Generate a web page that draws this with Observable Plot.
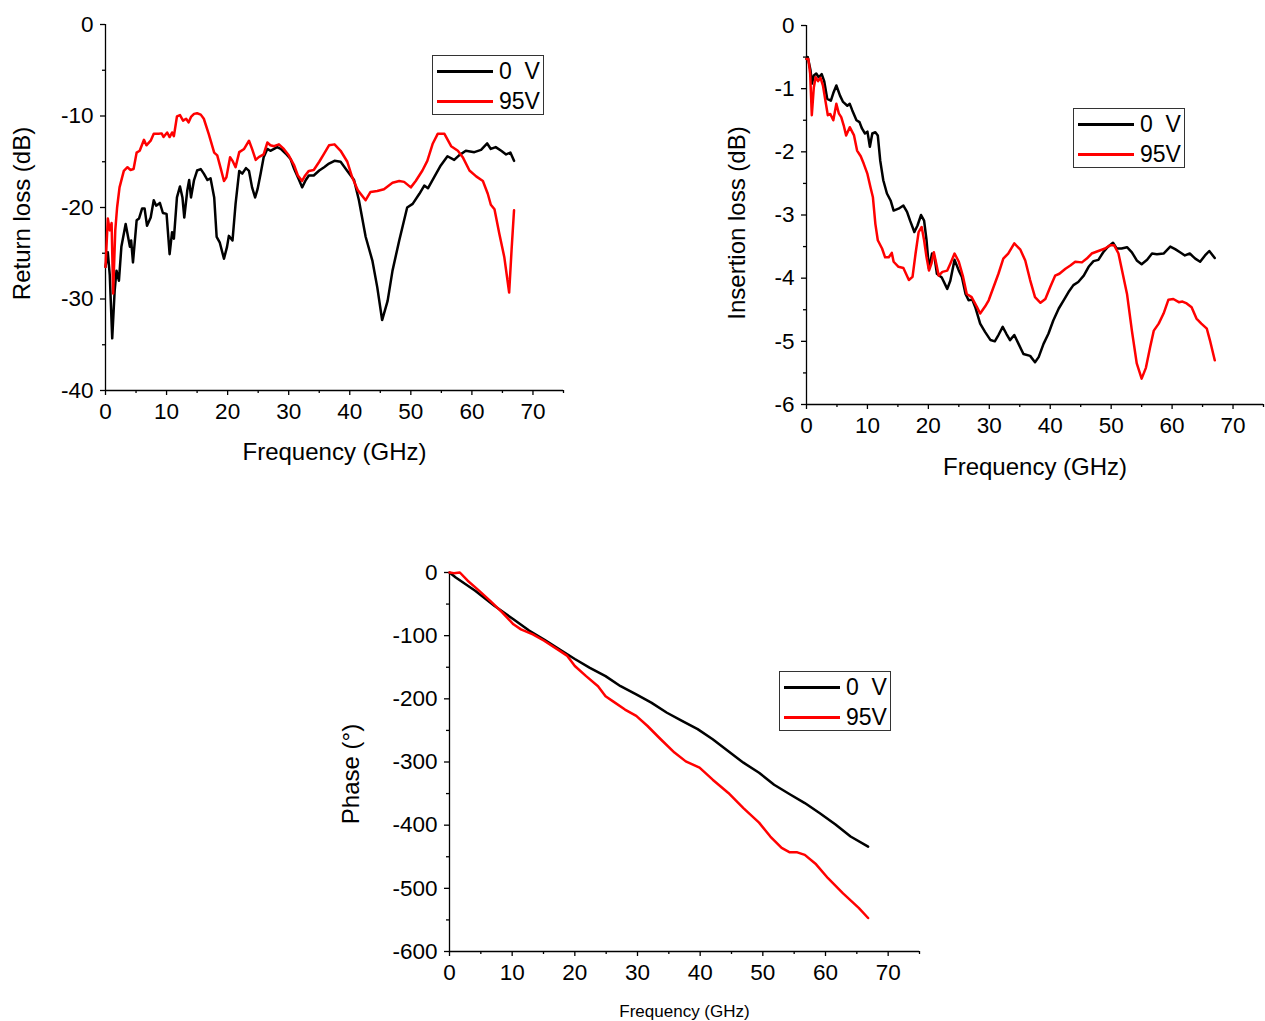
<!DOCTYPE html>
<html>
<head>
<meta charset="utf-8">
<script src="https://cdn.jsdelivr.net/npm/d3@7"></script>
<script src="https://cdn.jsdelivr.net/npm/@observablehq/plot@0.6"></script>
<style>
  html, body { margin: 0; padding: 0; background: #fff; }
  #root { position: relative; width: 1265px; height: 1021px; overflow: hidden; background: #fff;
          font-family: "Liberation Sans", Arial, sans-serif; color: #000; }
  .panel { position: absolute; }
  .legend { position: absolute; width: 110px; height: 58px; border: 1px solid #333; background: #fff; box-sizing: content-box; }
  .legend .sw { position: absolute; left: 4px; width: 56px; height: 2.5px; }
  .legend .lb { position: absolute; left: 66px; font-size: 23px; line-height: 23px; white-space: pre; }
</style>
</head>
<body>
<div id="root"></div>
<script>
// ---------- Data ----------
const seriesNames = ["0  V", "95V"];
const seriesColors = ["#000000", "#ff0000"];

const xMajorTicks = [0, 10, 20, 30, 40, 50, 60, 70];
const xMinorTicks = [5, 15, 25, 35, 45, 55, 65, 75];

// Return loss (dB)
const rlFreq0 = [0,0.38,0.7,1.1,1.5,1.8,2.2,2.6,3.3,4.0,4.2,4.5,5.1,5.5,6.0,6.4,6.8,7.4,7.9,8.3,8.9,9.4,10.0,10.5,10.9,11.2,11.7,12.2,12.6,12.9,13.4,13.7,14.0,14.5,15.0,15.6,16.1,16.7,17.2,17.8,18.2,18.7,19.4,19.9,20.2,20.8,21.3,21.9,22.4,23.0,23.5,24.0,24.5,24.9,25.4,25.9,26.5,27.0,27.6,28.1,28.7,29.5,30.3,30.9,31.7,32.2,32.8,33.3,34.1,35.0,35.8,36.6,37.5,38.5,39.6,40.7,41.5,42.6,43.7,44.5,45.3,46.2,47.0,48.1,49.4,50.3,51.4,52.2,52.8,53.8,54.9,56.0,57.1,57.9,59.0,60.4,61.5,62.5,63.1,63.9,64.8,65.6,66.3,66.9];
const rlVal0 = [-26.5,-24.9,-27.4,-34.3,-29.1,-26.9,-28.0,-24.3,-21.8,-24.3,-23.6,-26.0,-21.4,-21.2,-20.1,-20.1,-22.0,-21.1,-19.2,-19.8,-19.5,-20.6,-20.7,-25.1,-22.7,-23.4,-18.9,-17.7,-18.9,-21.1,-18.1,-17.0,-18.9,-17.0,-15.96,-15.8,-16.3,-17.0,-16.8,-18.9,-23.2,-23.8,-25.6,-24.3,-23.1,-23.6,-19.6,-16.0,-16.3,-15.7,-16.0,-17.8,-18.9,-18.0,-16.3,-14.5,-13.6,-13.8,-13.6,-13.4,-13.6,-14.1,-14.7,-15.8,-17.0,-17.8,-17.0,-16.5,-16.5,-15.96,-15.6,-15.2,-14.9,-15.0,-16.0,-17.0,-19.2,-23.2,-25.8,-28.7,-32.3,-30.2,-26.9,-23.6,-20.0,-19.6,-18.5,-17.6,-17.9,-16.7,-15.4,-14.4,-14.8,-14.3,-13.8,-13.95,-13.7,-13.0,-13.6,-13.4,-13.8,-14.2,-14.0,-14.9];
const rlFreq95 = [0,0.38,0.7,1.0,1.25,1.6,1.9,2.3,3.0,3.6,4.1,4.6,5.1,5.6,6.3,6.7,7.4,7.9,8.7,9.2,9.5,10.1,10.5,10.9,11.2,11.7,12.2,12.7,13.2,13.6,14.0,14.5,15.0,15.6,16.1,16.9,17.8,18.3,18.9,19.4,19.8,20.4,20.8,21.3,21.9,22.7,23.5,24.0,24.6,25.1,25.9,26.5,27.0,27.6,28.4,29.2,30.0,30.9,31.5,32.2,32.7,33.3,34.1,35.0,35.8,36.6,37.5,38.5,39.6,40.4,41.3,42.6,43.4,44.5,45.6,47.0,48.1,48.9,50.0,50.8,51.9,52.7,53.6,54.4,55.5,56.6,57.7,58.5,59.6,60.7,61.8,62.6,63.1,63.7,64.5,65.3,66.1,66.5,66.9];
const rlVal95 = [-26.5,-21.2,-22.5,-21.7,-29.4,-22.5,-20.0,-17.8,-16.0,-15.6,-15.9,-15.8,-14.0,-13.8,-12.6,-13.2,-12.7,-11.95,-11.95,-11.9,-12.3,-11.8,-12.3,-11.8,-12.2,-10.05,-9.9,-10.5,-10.3,-10.7,-10.1,-9.77,-9.7,-9.85,-10.3,-11.95,-14.0,-14.3,-15.8,-17.1,-16.7,-14.5,-14.9,-15.6,-13.95,-13.6,-12.7,-13.6,-14.8,-14.5,-14.2,-12.9,-13.2,-13.3,-13.1,-13.6,-14.3,-15.4,-16.5,-17.1,-16.5,-16.0,-15.9,-15.0,-14.1,-13.2,-13.1,-13.8,-15.0,-16.7,-18.1,-19.2,-18.3,-18.2,-18.0,-17.3,-17.1,-17.2,-17.8,-17.1,-15.96,-14.9,-13.0,-11.95,-11.95,-13.3,-13.8,-14.5,-15.96,-16.6,-17.1,-18.5,-19.7,-20.2,-22.9,-25.4,-29.3,-24.6,-20.3];
const rlYMajor = [0, -10, -20, -30, -40];
const rlYMinor = [-5, -15, -25, -35];

// Insertion loss (dB)
const ilFreq0 = [0,0.2,0.66,0.9,1.2,1.6,2.0,2.5,2.9,3.4,4.0,4.4,4.9,5.5,6.0,6.7,7.1,7.5,8.2,8.7,9.1,9.6,10.0,10.4,10.8,11.3,11.7,12.1,12.6,13.2,13.8,14.3,15.1,15.9,16.5,17.0,17.7,18.2,18.8,19.3,19.7,20.1,20.6,21.0,21.4,22.2,23.1,23.6,24.3,25.0,25.5,26.1,26.6,27.2,27.7,28.5,29.3,30.2,30.9,31.5,32.2,32.8,33.4,34.1,34.8,35.6,36.7,37.5,38.1,38.9,39.7,40.5,41.4,42.2,43.0,43.8,44.6,45.5,46.3,47.1,47.9,48.7,49.4,50.3,50.9,51.7,52.6,53.4,54.2,55.0,55.9,56.7,57.5,58.6,59.7,60.5,61.3,62.1,62.9,63.8,64.6,65.4,66.1,67.0];
const ilVal0 = [-0.53,-0.50,-0.71,-0.92,-0.79,-0.76,-0.82,-0.77,-0.88,-1.16,-1.19,-1.07,-0.95,-1.11,-1.21,-1.27,-1.24,-1.34,-1.50,-1.53,-1.63,-1.71,-1.68,-1.92,-1.71,-1.69,-1.74,-2.14,-2.45,-2.66,-2.77,-2.93,-2.90,-2.85,-2.95,-3.09,-3.27,-3.17,-3.0,-3.09,-3.40,-3.85,-3.61,-3.66,-3.93,-3.99,-4.17,-4.04,-3.71,-3.88,-3.98,-4.25,-4.35,-4.34,-4.46,-4.72,-4.85,-4.98,-5.0,-4.9,-4.77,-4.88,-4.98,-4.9,-5.04,-5.2,-5.23,-5.33,-5.25,-5.04,-4.88,-4.67,-4.48,-4.35,-4.22,-4.11,-4.06,-3.96,-3.82,-3.73,-3.71,-3.59,-3.51,-3.44,-3.53,-3.53,-3.51,-3.59,-3.72,-3.78,-3.71,-3.61,-3.62,-3.61,-3.5,-3.54,-3.59,-3.64,-3.61,-3.69,-3.74,-3.64,-3.57,-3.68];
const ilFreq95 = [0,0.3,0.6,0.87,1.2,1.5,1.9,2.3,2.7,3.1,3.5,3.9,4.4,4.9,5.3,5.7,6.1,6.5,7.1,7.8,8.3,8.9,9.4,10.0,10.5,10.9,11.3,11.7,12.4,12.9,13.5,14.0,14.3,15.1,15.9,16.8,17.4,17.9,18.4,18.9,19.3,19.7,20.1,20.5,20.9,21.3,21.7,22.3,23.1,23.6,24.3,25.0,25.7,26.3,27.1,28.0,28.5,29.3,29.9,30.7,31.5,32.3,33.1,34.1,35.1,35.9,36.7,37.5,38.4,39.2,40.0,40.8,41.5,42.5,43.3,44.1,45.2,46.0,46.8,47.9,49.0,49.8,50.5,51.2,51.9,52.6,53.4,54.2,55.0,55.7,56.4,57.0,57.8,58.6,59.4,60.2,61.1,61.7,62.4,63.2,64.0,64.8,65.7,66.2,67.0];
const ilVal95 = [-0.53,-0.53,-0.76,-1.42,-0.98,-0.82,-0.88,-0.83,-0.95,-1.19,-1.42,-1.40,-1.50,-1.24,-1.39,-1.45,-1.58,-1.74,-1.61,-1.74,-1.98,-2.07,-2.19,-2.35,-2.56,-2.72,-3.14,-3.40,-3.53,-3.67,-3.67,-3.6,-3.74,-3.82,-3.84,-4.03,-3.98,-3.61,-3.27,-3.19,-3.40,-3.67,-3.88,-3.77,-3.59,-3.77,-3.96,-3.9,-3.88,-3.77,-3.61,-3.74,-3.98,-4.25,-4.3,-4.46,-4.56,-4.45,-4.35,-4.14,-3.93,-3.69,-3.61,-3.45,-3.55,-3.72,-4.03,-4.30,-4.39,-4.33,-4.14,-3.96,-3.93,-3.85,-3.80,-3.74,-3.75,-3.69,-3.61,-3.57,-3.53,-3.48,-3.48,-3.61,-3.93,-4.25,-4.83,-5.35,-5.59,-5.42,-5.09,-4.83,-4.72,-4.56,-4.34,-4.33,-4.38,-4.37,-4.4,-4.46,-4.64,-4.72,-4.8,-4.98,-5.3];
const ilYMajor = [0, -1, -2, -3, -4, -5, -6];
const ilYMinor = [-0.5, -1.5, -2.5, -3.5, -4.5, -5.5];

// Phase (°)
const phFreq0 = [0,1.0,4.1,7.2,10.2,12.7,15.1,17.6,20.0,22.4,24.9,27.3,29.8,32.2,34.7,37.1,39.6,42.0,44.5,46.9,49.4,51.8,54.3,56.7,59.1,61.6,64.0,66.8];
const phVal0 = [0,-8,-29,-53,-74,-92,-106,-122,-137,-151,-164,-180,-193,-206,-222,-235,-248,-264,-283,-301,-317,-336,-351,-365,-381,-399,-418,-434];
const phFreq95 = [0,0.7,1.65,2.9,4.4,6.5,8.4,10.2,11.4,13.3,15.1,17.6,18.8,20.0,21.8,23.7,24.9,26.1,28.0,29.8,31.6,33.5,35.9,37.7,39.9,42.0,44.5,46.9,49.4,51.2,53.0,54.3,55.5,56.7,58.5,60.4,62.8,65.3,66.8];
const phVal95 = [0,-1,0,-13,-26,-45,-63,-82,-90,-98,-108,-124,-132,-148,-164,-180,-196,-204,-217,-227,-243,-262,-285,-299,-309,-328,-349,-373,-396,-418,-436,-443,-443,-447,-462,-484,-508,-531,-547];
const phYMajor = [0, -100, -200, -300, -400, -500, -600];
const phYMinor = [-50, -150, -250, -350, -450, -550];

// ---------- Drawing ----------
const FONT = '"Liberation Sans", Arial, sans-serif';
const root = document.getElementById("root");

function panel(cfg) {
  const fmt = d => String(d);
  const axisStyle = {stroke: "#000", strokeWidth: 1.3};
  const marks = [
    Plot.ruleX([0], axisStyle),
    Plot.ruleY([cfg.yDomain[0]], axisStyle),
    Plot.axisX(xMajorTicks, {anchor: "bottom", tickSize: 5, tickPadding: 8, tickFormat: fmt, fontSize: 22.5, strokeWidth: 1.3, label: null}),
    Plot.axisX(xMinorTicks, {anchor: "bottom", tickSize: 3, tickFormat: () => "", strokeWidth: 1.3, label: null}),
    Plot.axisY(cfg.yMajor, {anchor: "left", tickSize: 5, tickPadding: 7, tickFormat: fmt, fontSize: 22.5, strokeWidth: 1.3, label: null}),
    Plot.axisY(cfg.yMinor, {anchor: "left", tickSize: 3, tickFormat: () => "", strokeWidth: 1.3, label: null}),
  ];
  cfg.series.forEach((s, i) => {
    marks.push(Plot.line(s.y, {x: s.x, y: s.y, stroke: seriesColors[i], strokeWidth: 2.5, strokeLinejoin: "round", curve: "linear"}));
  });
  marks.push(Plot.text([cfg.yTitle], {frameAnchor: "left", rotate: -90, dx: cfg.yTitleDx, dy: cfg.yTitleDy, fontSize: 24, fill: "#000", lineAnchor: "middle", textAnchor: "middle"}));
  marks.push(Plot.text([cfg.xTitle], {frameAnchor: "bottom", dy: cfg.xTitleDy, fontSize: cfg.xTitleSize, fill: "#000", lineAnchor: "middle", textAnchor: "middle"}));

  const svg = Plot.plot({
    width: cfg.width, height: cfg.height,
    marginLeft: cfg.ml, marginRight: cfg.mr, marginTop: cfg.mt, marginBottom: cfg.mb,
    x: {domain: [0, 75]},
    y: {domain: cfg.yDomain},
    style: {fontFamily: FONT, fontSize: "22px", color: "#000", background: "transparent", overflow: "visible"},
    marks
  });
  const wrap = document.createElement("div");
  wrap.className = "panel";
  wrap.style.left = cfg.left + "px";
  wrap.style.top = cfg.top + "px";
  wrap.appendChild(svg);
  root.appendChild(wrap);

  // legend
  const lg = document.createElement("div");
  lg.className = "legend";
  lg.style.left = cfg.legend[0] + "px";
  lg.style.top = cfg.legend[1] + "px";
  seriesNames.forEach((name, i) => {
    const sw = document.createElement("div");
    sw.className = "sw";
    sw.style.top = (14 + 30 * i) + "px";
    sw.style.background = seriesColors[i];
    lg.appendChild(sw);
    const lb = document.createElement("div");
    lb.className = "lb";
    lb.style.top = (4 + 30 * i) + "px";
    lb.textContent = name;
    lg.appendChild(lb);
  });
  root.appendChild(lg);
}

panel({
  left: 0, top: 0, width: 580, height: 470, ml: 105, mr: 17, mt: 24, mb: 80,
  yDomain: [-40, 0], yMajor: rlYMajor, yMinor: rlYMinor,
  series: [{x: rlFreq0, y: rlVal0}, {x: rlFreq95, y: rlVal95}],
  yTitle: "Return loss (dB)", yTitleDx: -83, yTitleDy: 6,
  xTitle: "Frequency (GHz)", xTitleDy: 62, xTitleSize: 24,
  legend: [432, 55]
});

panel({
  left: 700, top: 0, width: 565, height: 490, ml: 106, mr: 2, mt: 25, mb: 86,
  yDomain: [-6, 0], yMajor: ilYMajor, yMinor: ilYMinor,
  series: [{x: ilFreq0, y: ilVal0}, {x: ilFreq95, y: ilVal95}],
  yTitle: "Insertion loss (dB)", yTitleDx: -69, yTitleDy: 8,
  xTitle: "Frequency (GHz)", xTitleDy: 63, xTitleSize: 24,
  legend: [1073, 108]
});

panel({
  left: 330, top: 540, width: 600, height: 481, ml: 119, mr: 11, mt: 32, mb: 70,
  yDomain: [-600, 0], yMajor: phYMajor, yMinor: phYMinor,
  series: [{x: phFreq0, y: phVal0}, {x: phFreq95, y: phVal95}],
  yTitle: "Phase (°)", yTitleDx: -98, yTitleDy: 12,
  xTitle: "Frequency (GHz)", xTitleDy: 60, xTitleSize: 17,
  legend: [779, 671]
});
</script>
</body>
</html>
